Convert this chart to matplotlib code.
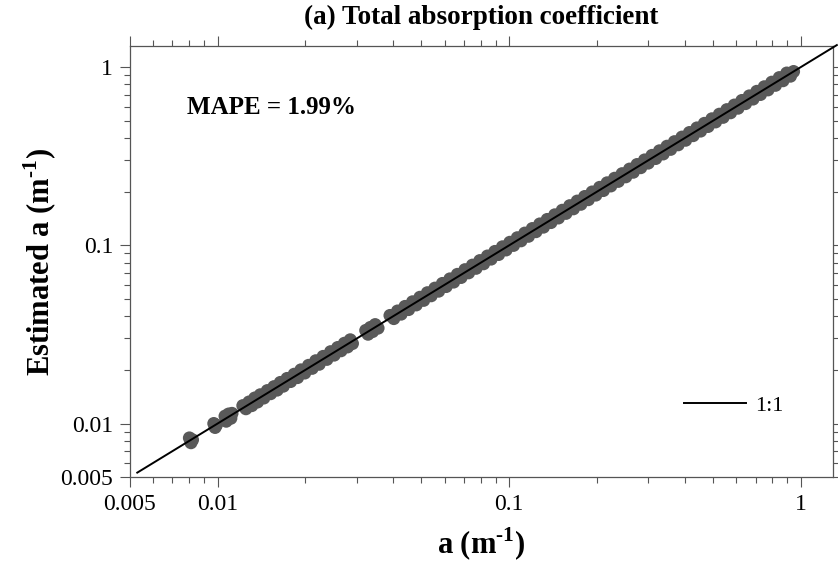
import matplotlib
matplotlib.use("Agg")
import matplotlib.pyplot as plt
import numpy as np
from matplotlib.ticker import LogLocator, NullFormatter

plt.rcParams["font.family"] = "Liberation Serif"
plt.rcParams["mathtext.fontset"] = "custom"
plt.rcParams["mathtext.rm"] = "Liberation Serif"
plt.rcParams["mathtext.bf"] = "Liberation Serif:bold"

# measured a (m^-1)
a_meas = [
    0.0080, 0.0081, 0.0082, 0.0097, 0.0098, 0.0099,
    0.0106, 0.0107, 0.0109, 0.0111, 0.0112,
    0.0122, 0.0125, 0.0128, 0.0131, 0.0134, 0.0137, 0.0140, 0.0144, 0.0148,
    0.0152, 0.0156, 0.0160, 0.0164, 0.0168, 0.0173, 0.0178, 0.0183, 0.0188,
    0.0193, 0.0199, 0.0205, 0.0211, 0.0217, 0.0223, 0.0230, 0.0237, 0.0244,
    0.0251, 0.0258, 0.0265, 0.0272, 0.0279, 0.0285, 0.0290,
    0.0322, 0.0328, 0.0334, 0.0340, 0.0347, 0.0355,
    0.0390, 0.0402, 0.0414, 0.0426, 0.0439, 0.0452, 0.0466, 0.0480, 0.0494,
    0.0509, 0.0524, 0.0540, 0.0556, 0.0573, 0.0590, 0.0608, 0.0626, 0.0645,
    0.0664, 0.0684, 0.0705, 0.0726, 0.0748, 0.0770, 0.0793, 0.0817, 0.0842,
    0.0867, 0.0893, 0.0920, 0.0948, 0.0976, 0.1005, 0.1035, 0.1066, 0.1098,
    0.1131, 0.1165, 0.1200, 0.1236, 0.1273, 0.1311, 0.1350, 0.1391, 0.1433,
    0.1476, 0.1520, 0.1566, 0.1613, 0.1661, 0.1711, 0.1762, 0.1815, 0.1869,
    0.1925, 0.1983, 0.2043, 0.2104, 0.2167, 0.2232, 0.2299, 0.2368, 0.2439,
    0.2512, 0.2587, 0.2665, 0.2745, 0.2827, 0.2912, 0.2999, 0.3089, 0.3182,
    0.3277, 0.3375, 0.3477, 0.3581, 0.3688, 0.3799, 0.3913, 0.4030, 0.4151,
    0.4276, 0.4404, 0.4536, 0.4672, 0.4812, 0.4957, 0.5106, 0.5259, 0.5417,
    0.5579, 0.5747, 0.5919, 0.6097, 0.6280, 0.6468, 0.6662, 0.6862, 0.7068,
    0.7280, 0.7498, 0.7723, 0.7955, 0.8194, 0.8440, 0.8693, 0.8954, 0.9222,
    0.9450,
]

# estimated a (m^-1)
a_est = [
    0.0083, 0.0078, 0.0081, 0.0100, 0.0095, 0.0098,
    0.0110, 0.0103, 0.0113, 0.0107, 0.0114,
    0.0126, 0.0121, 0.0132, 0.0126, 0.0139, 0.0132, 0.0145, 0.0139, 0.0153,
    0.0147, 0.0161, 0.0154, 0.0170, 0.0162, 0.0179, 0.0172, 0.0189, 0.0181,
    0.0200, 0.0192, 0.0212, 0.0204, 0.0225, 0.0215, 0.0238, 0.0229, 0.0253,
    0.0242, 0.0267, 0.0256, 0.0282, 0.0269, 0.0295, 0.0281,
    0.0333, 0.0317, 0.0346, 0.0328, 0.0359, 0.0343,
    0.0404, 0.0388, 0.0428, 0.0411, 0.0454, 0.0436, 0.0482, 0.0463, 0.0511,
    0.0491, 0.0542, 0.0521, 0.0575, 0.0553, 0.0611, 0.0587, 0.0648, 0.0622,
    0.0687, 0.0660, 0.0730, 0.0701, 0.0774, 0.0743, 0.0821, 0.0788, 0.0871,
    0.0837, 0.0924, 0.0888, 0.0981, 0.0942, 0.1040, 0.0999, 0.1103, 0.1060,
    0.1171, 0.1124, 0.1242, 0.1193, 0.1318, 0.1265, 0.1397, 0.1342, 0.1483,
    0.1424, 0.1573, 0.1511, 0.1669, 0.1603, 0.1771, 0.1700, 0.1879, 0.1804,
    0.1992, 0.1914, 0.2115, 0.2030, 0.2243, 0.2154, 0.2379, 0.2285, 0.2524,
    0.2424, 0.2678, 0.2572, 0.2841, 0.2728, 0.3014, 0.2894, 0.3197, 0.3071,
    0.3392, 0.3257, 0.3599, 0.3456, 0.3817, 0.3666, 0.4050, 0.3889, 0.4296,
    0.4126, 0.4558, 0.4377, 0.4836, 0.4644, 0.5130, 0.4927, 0.5443, 0.5227,
    0.5774, 0.5546, 0.6126, 0.5884, 0.6500, 0.6242, 0.6895, 0.6622, 0.7315,
    0.7025, 0.7760, 0.7453, 0.8233, 0.7907, 0.8735, 0.8389, 0.9267, 0.8899,
    0.9450,
]

one_to_one = [0.0053, 1.33]
mape_text = "MAPE = 1.99%"

fig = plt.figure(figsize=(8.38, 5.64), dpi=100)
ax = fig.add_axes([0.155, 0.154, 0.839, 0.764])

ax.scatter(a_meas, a_est, s=88, color="#595959", edgecolors="none", zorder=2)
ax.plot(one_to_one, one_to_one, color="black", linewidth=1.4, label="1:1",
        zorder=3, clip_on=False)

ax.set_xscale("log")
ax.set_yscale("log")
ax.set_xlim(0.005, 1.29)
ax.set_ylim(0.005, 1.31)

ticks = [0.005, 0.01, 0.1, 1]
ticklabels = ["0.005", "0.01", "0.1", "1"]
ax.set_xticks(ticks)
ax.set_xticklabels(ticklabels)
ax.set_yticks(ticks)
ax.set_yticklabels(ticklabels)
for axis in (ax.xaxis, ax.yaxis):
    axis.set_minor_locator(LogLocator(base=10, subs=np.arange(2, 10)))
    axis.set_minor_formatter(NullFormatter())

ax.tick_params(which="both", direction="out", top=True, right=True,
               labelsize=17, width=0.8, color="#555555")
ax.tick_params(which="major", length=7, pad=5)
ax.tick_params(which="minor", length=4)
for sp in ax.spines.values():
    sp.set_linewidth(0.9)
    sp.set_color("#555555")

ax.set_title("(a) Total absorption coefficient", fontsize=19.5, fontweight="bold", pad=16)
ax.set_xlabel("a (m$^{\\mathbf{\u20101}}$)", fontsize=22, fontweight="bold", labelpad=8)
ax.set_ylabel("Estimated a (m$^{\\mathbf{\u20101}}$)", fontsize=22, fontweight="bold", labelpad=1)

ax.text(0.081, 0.857, mape_text, transform=ax.transAxes, fontsize=18,
        fontweight="bold", ha="left", va="center")

ax.legend(loc="center left", bbox_to_anchor=(0.788, 0.166), frameon=False,
          fontsize=16, handlelength=2.8, handletextpad=0.4, borderpad=0,
          borderaxespad=0)

fig.savefig("out.png", dpi=100)
